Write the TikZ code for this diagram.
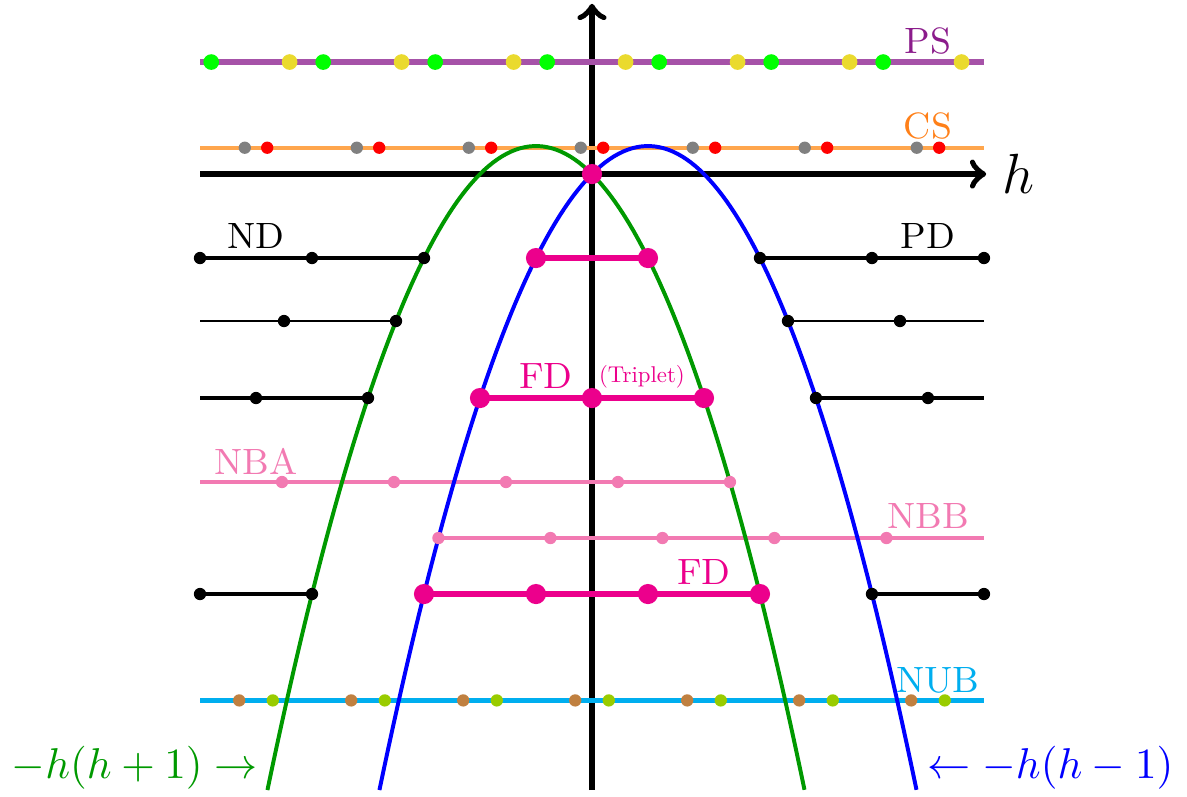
\documentclass[tikz,border=0pt]{standalone}
\definecolor{psline}{HTML}{A652A8}
\definecolor{pstext}{HTML}{8B1C8B}
\definecolor{csline}{HTML}{FFA64D}
\definecolor{cstext}{HTML}{FF8019}
\definecolor{fdmag}{HTML}{EC008C}
\definecolor{nbpink}{HTML}{F27AB2}
\definecolor{nubcyan}{HTML}{00AEEF}
\definecolor{dotyellow}{HTML}{EADA2E}
\definecolor{dotbrown}{HTML}{C08040}
\definecolor{dotlime}{HTML}{99CC00}
\definecolor{curvegreen}{HTML}{009900}
\begin{document}
\begin{tikzpicture}[x=1cm,y=1cm,
  lbl/.style={font=\fontsize{9.3}{11}\selectfont},
  crvlbl/.style={font=\fontsize{11}{13}\selectfont}]
\useasboundingbox (-5.286,-5.554) rectangle (5.313,1.554);
% axes
\draw[line width=1.6pt,->] (-3.5,0)--(3.52,0) node[right,font=\fontsize{13.5}{16}\selectfont] (hlbl) {$h$};
\draw[line width=1.6pt,->] (0,-5.5)--(0,1.52);
% principal and complementary series
\draw[line width=1.4pt,psline] (-3.5,1)--(3.5,1);
\draw[line width=1pt,csline] (-3.5,0.235)--(3.5,0.235);
\node[lbl,text=pstext] (ps) at (3.0,1.19) {PS};
\node[lbl,text=cstext] (cs) at (3.0,0.43) {CS};
% discrete series
\draw[thick] (-3.5,-0.75)--(-1.5,-0.75);\draw[thick] (1.5,-0.75)--(3.5,-0.75);
\draw (-3.5,-1.3125)--(-1.75,-1.3125);\draw (1.75,-1.3125)--(3.5,-1.3125);
\draw[thick] (-3.5,-2)--(-2,-2);\draw[thick] (2,-2)--(3.5,-2);
\draw[thick] (-3.5,-3.75)--(-2.5,-3.75);\draw[thick] (2.5,-3.75)--(3.5,-3.75);
\node[lbl] (nd) at (-3.0,-0.554) {ND};
\node[lbl] (pd) at (3.0,-0.554) {PD};
% finite dimensional
\draw[line width=1.4pt,fdmag] (-0.5,-0.75)--(0.5,-0.75);
\draw[line width=1.4pt,fdmag] (-1,-2)--(1,-2);
\draw[line width=1.4pt,fdmag] (-1.5,-3.75)--(1.5,-3.75);
\node[lbl,text=fdmag] (fd1) at (-0.41,-1.80) {FD};
\node[scale=0.58,text=fdmag] (trip) at (0.446,-1.81) {(Triplet)};
\node[lbl,text=fdmag] (fd2) at (1.0,-3.55) {FD};
% non-unitary
\draw[line width=1.1pt,nbpink] (-3.5,-2.75)--(1.232,-2.75);
\draw[line width=1.1pt,nbpink] (-1.371,-3.25)--(3.5,-3.25);
\draw[line width=1.1pt,nubcyan] (-3.5,-4.7)--(3.5,-4.7);
\node[lbl,text=nbpink] (nba) at (-3.0,-2.57) {NBA};
\node[lbl,text=nbpink] (nbb) at (3.0,-3.05) {NBB};
\node[lbl,text=nubcyan] (nub) at (3.09,-4.52) {NUB};
% parabolas
\draw[line width=1pt,curvegreen,domain=-2.898:1.898,samples=120] plot (\x,{-\x*(\x+1)});
\draw[line width=1pt,blue,domain=-1.898:2.898,samples=120] plot (\x,{-\x*(\x-1)});
\node[crvlbl,text=curvegreen,anchor=east] (gl) at (-2.86,-5.30) {$-h(h+1)\rightarrow$};
\node[crvlbl,text=blue,anchor=west] (bl) at (2.87,-5.30) {$\leftarrow-h(h-1)$};
% dots
\foreach \n in {0,...,6}{\fill[green] (-3.4+\n,1) circle (0.07);\fill[dotyellow] (-2.7+\n,1) circle (0.07);
  \fill[gray] (-3.1+\n,0.235) circle (0.055);\fill[red] (-2.9+\n,0.235) circle (0.055);
  \fill[dotbrown] (-3.15+\n,-4.7) circle (0.055);\fill[dotlime] (-2.85+\n,-4.7) circle (0.055);}
\foreach \n in {0,...,4}{\fill[nbpink] (1.232-\n,-2.75) circle (0.055);\fill[nbpink] (-1.371+\n,-3.25) circle (0.055);}
\foreach \p in {(-3.5,-0.75),(-2.5,-0.75),(-1.5,-0.75),(1.5,-0.75),(2.5,-0.75),(3.5,-0.75),(-2.75,-1.3125),(-1.75,-1.3125),(1.75,-1.3125),(2.75,-1.3125),(-3,-2),(-2,-2),(2,-2),(3,-2),(-3.5,-3.75),(-2.5,-3.75),(2.5,-3.75),(3.5,-3.75)}{\fill \p circle (0.055);}
\foreach \p in {(0,0),(-0.5,-0.75),(0.5,-0.75),(-1,-2),(0,-2),(1,-2),(-1.5,-3.75),(-0.5,-3.75),(0.5,-3.75),(1.5,-3.75)}{\fill[fdmag] \p circle (0.09);}
\end{tikzpicture}
\end{document}
